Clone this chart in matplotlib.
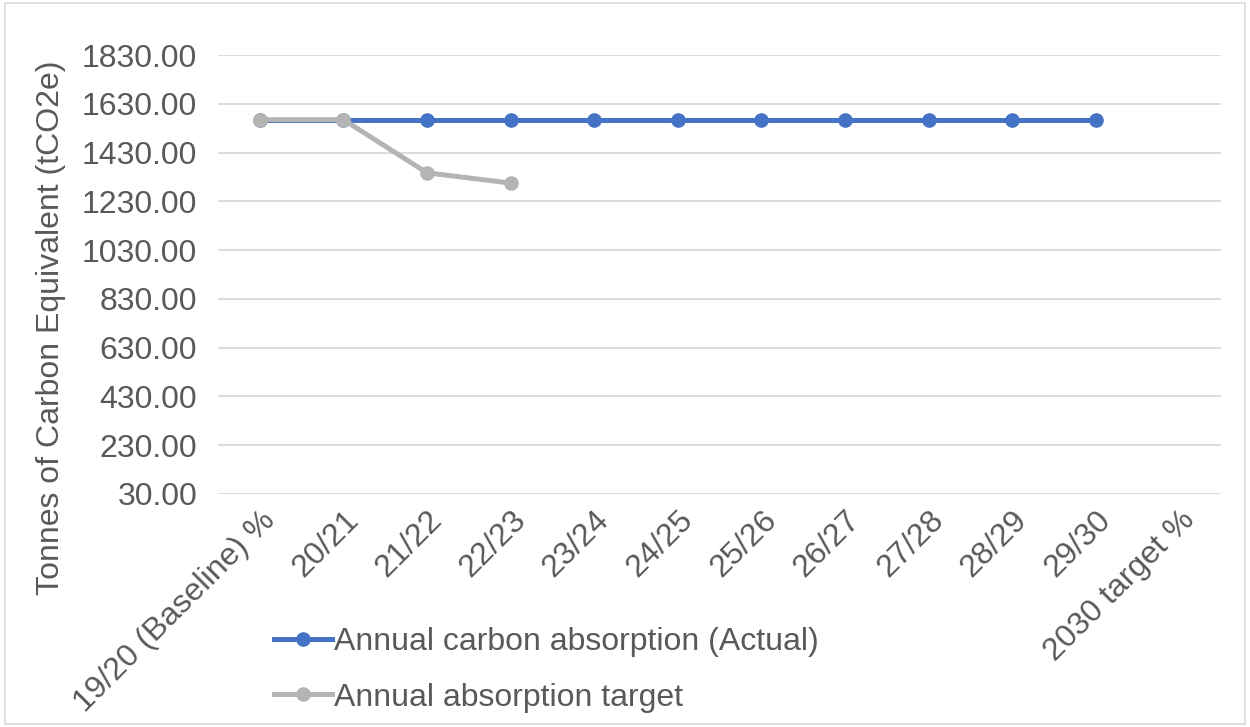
import matplotlib.pyplot as plt
from matplotlib.patches import Rectangle

# 数据
categories = ['19/20 (Baseline) %', '20/21', '21/22', '22/23', '23/24', '24/25',
              '25/26', '26/27', '27/28', '28/29', '29/30', '2030 target %']
actual = [1565, 1565, 1565, 1565, 1565, 1565, 1565, 1565, 1565, 1565, 1565, None]
target = [1565, 1565, 1347, 1305]
y_ticks = [30, 230, 430, 630, 830, 1030, 1230, 1430, 1630, 1830]

TEXT = '#595959'
FS = 23
plt.rcParams['font.family'] = ['Liberation Sans', 'DejaVu Sans']

fig = plt.figure(figsize=(12.5, 7.27), dpi=100)
ax = fig.add_axes([0.1744, 0.3205, 0.8026, 0.6038])

x = list(range(len(categories)))
xa = [i for i, v in zip(x, actual) if v is not None]
ya = [v for v in actual if v is not None]
ax.plot(xa, ya, color='#4472C4', linewidth=3.6, marker='o', markersize=9.5,
        label='Annual carbon absorption (Actual)', zorder=3)
ax.plot(x[:len(target)], target, color='#B4B4B4', linewidth=3.6, marker='o',
        markersize=9.5, label='Annual absorption target', zorder=4)

ax.set_xlim(-0.5, len(categories) - 0.5)
ax.set_ylim(30, 1830)
ax.set_yticks(y_ticks)
ax.set_yticklabels([f'{v:.2f}' for v in y_ticks])
ax.set_xticks(x)
ax.set_xticklabels(categories, rotation=45, ha='right', rotation_mode='anchor')
ax.tick_params(axis='both', length=0, labelsize=FS, colors=TEXT, pad=15)
ax.tick_params(axis='x', pad=8)
ax.grid(axis='y', color='#D9D9D9', linewidth=1.3)
ax.set_axisbelow(True)
for s in ax.spines.values():
    s.set_visible(False)

fig.text(0.041, 0.549, 'Tonnes of Carbon Equivalent (tCO2e)', rotation=90,
         ha='center', va='center', fontsize=FS, color=TEXT)

leg = fig.legend(loc='upper left', bbox_to_anchor=(0.209, 0.155), frameon=False,
                 fontsize=FS, handlelength=1.8, handletextpad=0.08,
                 labelspacing=0.8, borderaxespad=0)
for t in leg.get_texts():
    t.set_color(TEXT)

# 外边框
fig.patches.append(Rectangle((0.004, 0.004), 0.992, 0.992, transform=fig.transFigure,
                             fill=False, edgecolor='#D9D9D9', linewidth=1.2))

fig.savefig('out.png', dpi=100)
